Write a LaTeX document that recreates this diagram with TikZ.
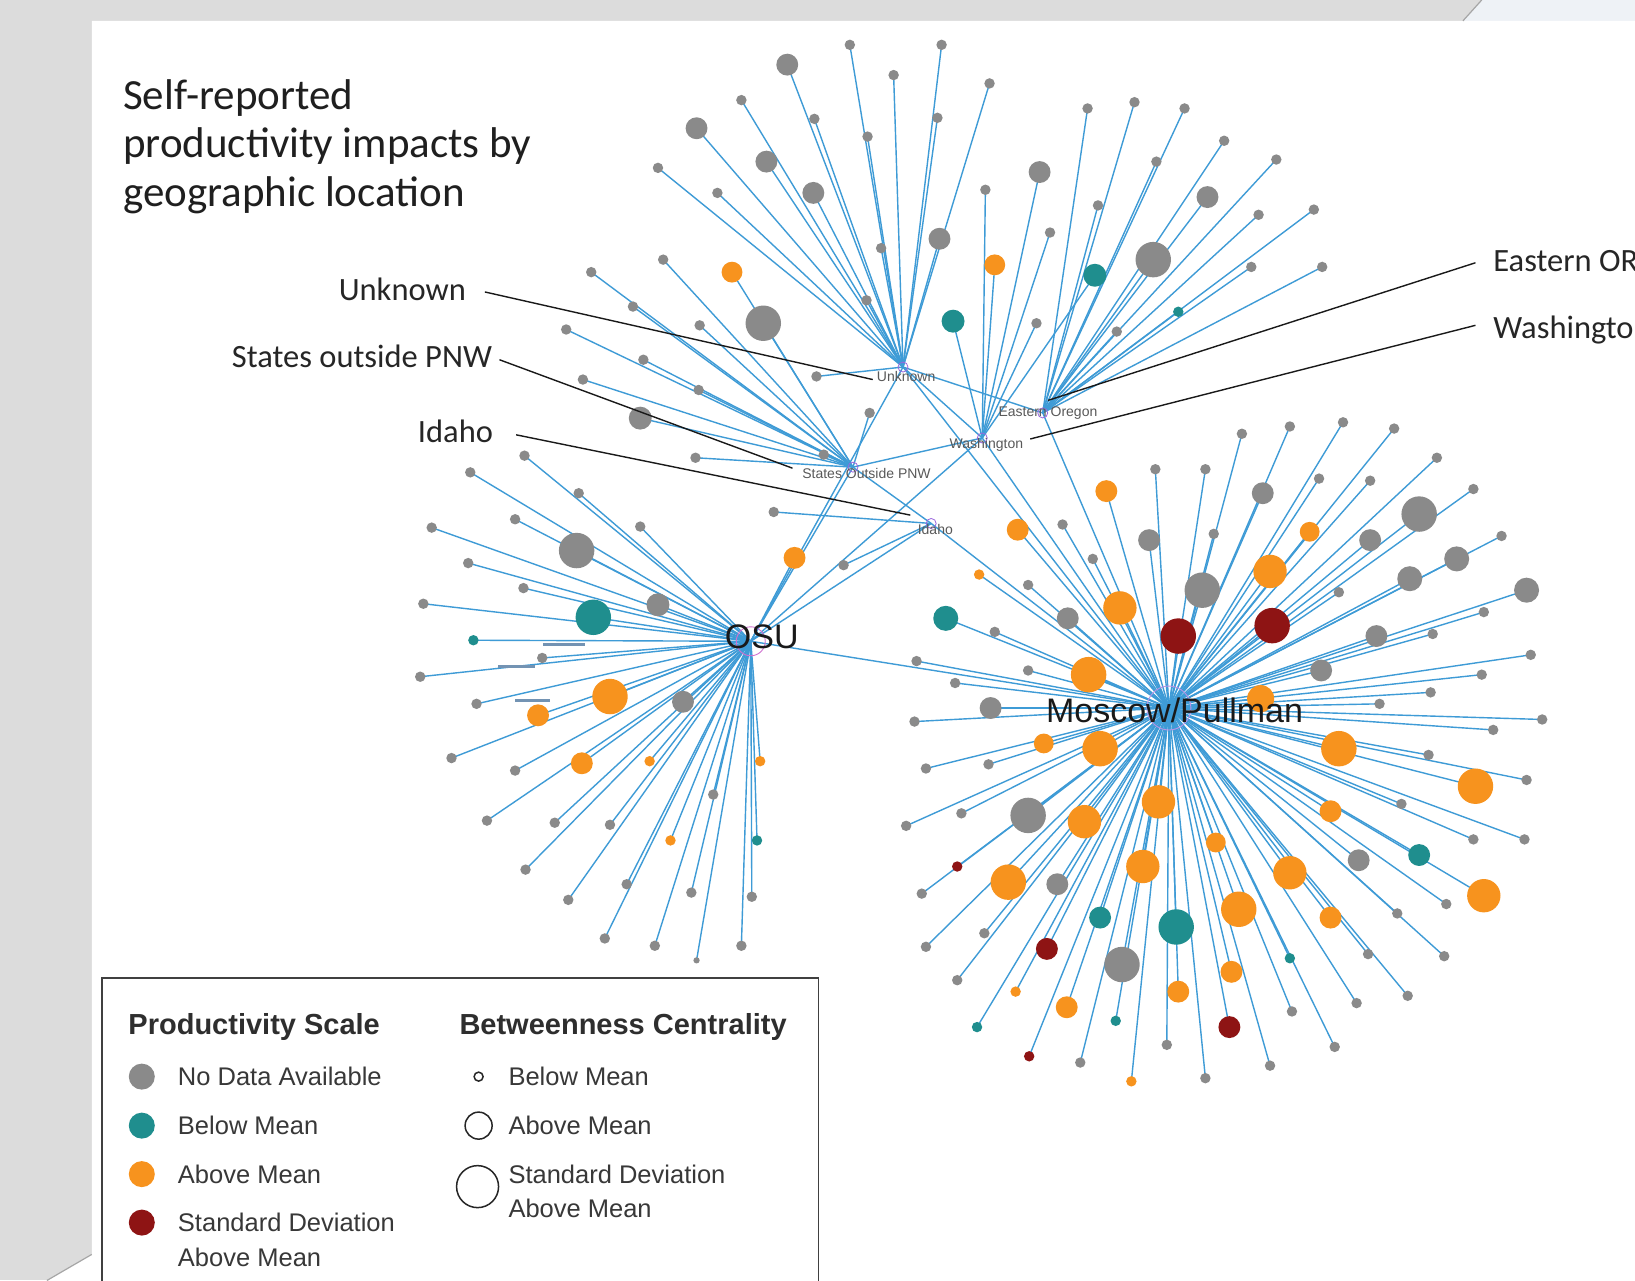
\documentclass[tikz,border=0pt]{standalone}
\usepackage{fontspec}
\setmainfont{Carlito}
\newfontfamily\arialf{Liberation Sans}
\pgfdeclarelayer{panel}
\pgfdeclarelayer{edges}
\pgfsetlayers{panel,edges,main}
\definecolor{gy}{HTML}{8A8A8A}
\definecolor{tl}{HTML}{1F8E8E}
\definecolor{og}{HTML}{F7931E}
\definecolor{dr}{HTML}{8E1414}
\definecolor{edgeblue}{HTML}{3E9BD6}
\definecolor{bggray}{HTML}{DCDCDC}
\definecolor{bglight}{HTML}{EEF2F6}
\definecolor{hubpink}{HTML}{D070D0}
\definecolor{hubviolet}{HTML}{9A66DD}
\definecolor{bargray}{HTML}{7393B3}
\newcommand\mkleaves[3]{%
  \foreach \x/\y/\r/\c [count=\i] in {#3}{%
    \node[leaf,fill=\c,minimum size=2.085*\r] (#2\i) at (\x,\y) {};
    \begin{pgfonlayer}{edges}\draw[edge] (#1.center) -- (#2\i.center);\end{pgfonlayer}
  }}
\begin{document}
\begin{tikzpicture}[x=1.0427pt,y=-1.0427pt,
  leaf/.style={circle,inner sep=0pt,outer sep=0pt,draw=none},
  edge/.style={draw=edgeblue,line width=1.4pt},
  callout/.style={draw=black!90,line width=1.4pt},
  smallhub/.style={circle,inner sep=0pt,minimum size=10pt,draw=hubviolet,line width=0.8pt},
  hublbl/.style={font=\arialf\fontsize{14}{16}\selectfont,text=black!65,inner sep=0pt},
  biglbl/.style={font=\arialf\fontsize{34}{40}\selectfont,text=black!90,inner sep=0pt},
  calloutlbl/.style={font=\fontsize{32.5}{39}\selectfont,text=black!85,inner sep=0pt},
  titlelbl/.style={font=\fontsize{43}{50}\selectfont,text=black!88,inner sep=0pt,anchor=base west},
  lghead/.style={font=\arialf\bfseries\fontsize{29}{34}\selectfont,text=black!82,inner sep=0pt,anchor=west},
  lgitem/.style={font=\arialf\fontsize{25.5}{30}\selectfont,text=black!78,inner sep=0pt,anchor=west},
  lgdot/.style={circle,inner sep=0pt,minimum size=26pt,draw=none},
  lgring/.style={circle,inner sep=0pt,draw=black!85,line width=1.5pt}]
\useasboundingbox (0,0) rectangle (1568,1228);
\begin{pgfonlayer}{panel}
  \fill[bggray] (0,0) rectangle (1568,1228);
  \fill[bglight] (1403,20) -- (1421,0) -- (1568,0) -- (1568,20) -- cycle;
  \fill[white] (88,20) -- (1568,20) -- (1568,1228) -- (45,1228) -- (88,1203) -- cycle;
  \draw[black!35,line width=1.2pt] (1403,20) -- (1421,0);
  \draw[black!35,line width=1.2pt] (88,1203) -- (45,1228);
\end{pgfonlayer}
% hubs
\node[smallhub] (U) at (866,352) {};
\node[smallhub] (E) at (1000,396) {};
\node[smallhub] (W) at (942,420) {};
\node[smallhub] (S) at (818,448) {};
\node[smallhub] (I) at (893,502) {};
\node[circle,inner sep=0pt,minimum size=29pt,draw=hubpink,line width=0.9pt] (O) at (720,615) {};
\node[circle,inner sep=0pt,minimum size=44pt,draw=hubviolet!70,line width=0.9pt] (M) at (1121,679) {};
% hub to hub edges
\begin{pgfonlayer}{edges}
  \foreach \a/\b in {O/U,O/S,O/W,O/I,O/M,M/E,M/W,M/U,M/I,U/E,S/W,S/I,U/W}
    \draw[edge] (\a.center) -- (\b.center);
\end{pgfonlayer}
% leaves
\mkleaves{U}{ul}{815/43/5/gy,903/43/5/gy,755/62/10.5/gy,857/72/5/gy,949/80/5/gy,711/96/5/gy,668/123/10.5/gy,781/114/5/gy,899/113/5/gy,832/131/5/gy,735/155/10.5/gy,631/161/5/gy,688/185/5/gy,780/185/10.5/gy,901/229/10.5/gy,845/238/5/gy,831/288/5/gy,783/361/5/gy}
\mkleaves{W}{wl}{997/165/10.5/gy,945/182/5/gy,1007/223/5/gy,954/254/10/og,1050/264/11/tl,914/308/11/tl,994/310/5/gy}
\mkleaves{E}{el}{1043/104/5/gy,1088/98/5/gy,1136/104/5/gy,1174/135/5/gy,1224/153/5/gy,1109/155/5/gy,1158/189/10.5/gy,1053/197/5/gy,1207/206/5/gy,1260/201/5/gy,1106/249/17/gy,1200/256/5/gy,1268/256/5/gy,1071/318/5/gy,1130/299/5/tl}
\mkleaves{S}{sl}{636/249/5/gy,567/261/5/gy,702/261/10/og,607/294/5/gy,671/312/5/gy,732/310/17/gy,543/316/5/gy,617/345/5/gy,559/364/5/gy,670/374/5/gy,614/401/11/gy,834/396/5/gy,667/439/5/gy,790/436/5/gy}
\mkleaves{I}{il}{742/491/5/gy,809/542/5/gy}
\mkleaves{O}{ol}{503/437/5/gy,451/453/5/gy,555/473/5/gy,494/498/5/gy,414/506/5/gy,614/505/5/gy,553/528/17/gy,449/540/5/gy,502/564/5/gy,406/579/5/gy,631/580/11/gy,569/592/17/tl,454/614/5/tl,520/631/5/gy,403/649/5/gy,457/675/5/gy,585/668/17/og,516/686/10.5/og,655/673/10.5/gy,433/727/5/gy,494/739/5/gy,558/732/10.5/og,623/730/5/og,729/730/5/og,684/762/5/gy,467/787/5/gy,532/789/5/gy,585/791/5/gy,643/806/5/og,726/806/5/tl,504/834/5/gy,601/848/5/gy,663/856/5/gy,721/860/5/gy,545/863/5/gy,580/900/5/gy,628/907/5/gy,711/907/5/gy,668/921/3/gy,762/535/10.5/og}
\mkleaves{M}{ml}{1237/409/5/gy,1288/405/5/gy,1337/411/5/gy,1191/416/5/gy,1378/439/5/gy,1108/450/5/gy,1156/450/5/gy,1265/459/5/gy,1314/461/5/gy,1061/471/10.5/og,1211/473/10.5/gy,1413/469/5/gy,1361/493/17/gy,976/508/10.5/og,1019/503/5/gy,1102/518/10.5/gy,1164/512/5/gy,1256/510/9.5/og,1314/518/10.5/gy,1440/514/5/gy,939/551/5/og,1048/536/5/gy,986/561/5/gy,1153/566/17/gy,1218/548/16/og,1352/555/12/gy,1397/536/12/gy,1284/568/5/gy,1464/566/12/gy,907/593/12/tl,1074/583/16/og,1024/593/10.5/gy,1130/610/17/dr,1220/600/17/dr,1423/587/5/gy,1320/610/10.5/gy,1374/608/5/gy,954/606/5/gy,879/634/5/gy,986/643/5/gy,1044/647/17/og,1267/643/10.5/gy,1468/628/5/gy,1421/647/5/gy,916/655/5/gy,950/679/10.5/gy,877/692/5/gy,1209/670/13/og,1323/675/5/gy,1372/664/5/gy,1479/690/5/gy,1001/713/9.5/og,1055/718/17/og,1284/718/17/og,1432/700/5/gy,888/737/5/gy,948/733/5/gy,1370/724/5/gy,1464/748/5/gy,1415/754/17/og,986/782/17/gy,1040/788/16/og,1111/769/16/og,922/780/5/gy,869/792/5/gy,1276/778/10.5/og,1344/771/5/gy,1413/805/5/gy,1462/805/5/gy,918/831/5/dr,1166/808/9.5/og,1096/831/16/og,1237/837/16/og,1303/825/10.5/gy,1361/820/10.5/tl,884/857/5/gy,967/846/17/og,1014/848/10.5/gy,1423/859/16/og,1387/867/5/gy,1055/880/10.5/tl,1128/889/17/tl,1188/872/17/og,1276/880/10.5/og,1340/876/5/gy,944/895/5/gy,888/908/5/gy,1004/910/10.5/dr,1076/925/17/gy,1237/919/5/tl,1312/915/5/gy,1385/917/5/gy,918/940/5/gy,974/951/5/og,1130/951/10.5/og,1181/932/10.5/og,1350/955/5/gy,1023/966/10.5/og,937/985/5/tl,1070/979/5/tl,1179/985/10.5/dr,1239/970/5/gy,1301/962/5/gy,987/1013/5/dr,1036/1019/5/gy,1119/1002/5/gy,1280/1004/5/gy,1085/1037/5/og,1156/1034/5/gy,1218/1022/5/gy}
% stray label bars near OSU
\draw[bargray,line width=3pt] (521,618) -- (561,618);
\draw[bargray,line width=3pt] (478,639) -- (513,639);
\draw[bargray,line width=3pt] (494,672) -- (527,672);
% small hub labels
\node[hublbl] (Ut) at (869,361) {Unknown};
\node[hublbl] (Et) at (1005,396) {Eastern Oregon};
\node[hublbl] (Wt) at (946,427) {Washington};
\node[hublbl] (St) at (831,454) {States Outside PNW};
\node[hublbl] (It) at (897,508) {Idaho};
% big hub labels
\node[biglbl,anchor=west] (Ot) at (695,611) {OSU};
\node[biglbl,anchor=west] (Mt) at (1003,681) {Moscow/Pullman};
% title
\node[titlelbl] (t1) at (118,105) {Self-reported};
\node[titlelbl] (t2) at (118,151.5) {productivity impacts by};
\node[titlelbl] (t3) at (118,198) {geographic location};
% callouts
\begin{scope}
\clip (0,0) rectangle (1568,1228);
\node[calloutlbl,anchor=base east] (cUnk) at (447,288) {Unknown};
\node[calloutlbl,anchor=base east] (cSta) at (472,352) {States outside PNW};
\node[calloutlbl,anchor=base east] (cIda) at (473,424) {Idaho};
\node[calloutlbl,anchor=base west] (cEor) at (1432,260.5) {Eastern OR};
\node[calloutlbl,anchor=base west] (cWas) at (1432,324.5) {Washington};
\coordinate (kU1) at (465,280); \coordinate (kU2) at (837,364);
\coordinate (kS1) at (479,345); \coordinate (kS2) at (760,449);
\coordinate (kI1) at (495,417); \coordinate (kI2) at (873,494);
\coordinate (kE1) at (1415,252); \coordinate (kE2) at (1005,384);
\coordinate (kW1) at (1415,312); \coordinate (kW2) at (988,421);
\draw[callout] (kU1) -- (kU2);
\draw[callout] (kS1) -- (kS2);
\draw[callout] (kI1) -- (kI2);
\draw[callout] (kE1) -- (kE2);
\draw[callout] (kW1) -- (kW2);
% legend
\draw[black!75,line width=1.8pt] (98,1240) -- (98,938) -- (785,938) -- (785,1240);
\node[lghead] (lh1) at (123,985) {Productivity Scale};
\node[lghead] (lh2) at (440.5,985) {Betweenness Centrality};
\node[lgdot,fill=gy] (ld1) at (136,1032.5) {};
\node[lgdot,fill=tl] (ld2) at (136,1079.5) {};
\node[lgdot,fill=og] (ld3) at (136,1126) {};
\node[lgdot,fill=dr] (ld4) at (136,1172.5) {};
\node[lgitem] (li1) at (170.5,1032.5) {No Data Available};
\node[lgitem] (li2) at (170.5,1079.5) {Below Mean};
\node[lgitem] (li3) at (170.5,1126) {Above Mean};
\node[lgitem] (li4) at (170.5,1172.5) {Standard Deviation};
\node[lgitem] (li5) at (170.5,1205.5) {Above Mean};
\node[lgring,minimum size=9pt] (lr1) at (459,1032.5) {};
\node[lgring,minimum size=27pt] (lr2) at (459,1079.5) {};
\node[lgring,minimum size=42pt] (lr3) at (458,1138) {};
\node[lgitem] (lj1) at (487.5,1032.5) {Below Mean};
\node[lgitem] (lj2) at (487.5,1079.5) {Above Mean};
\node[lgitem] (lj3) at (487.5,1126) {Standard Deviation};
\node[lgitem] (lj4) at (487.5,1159) {Above Mean};
\end{scope}
\end{tikzpicture}
\end{document}
